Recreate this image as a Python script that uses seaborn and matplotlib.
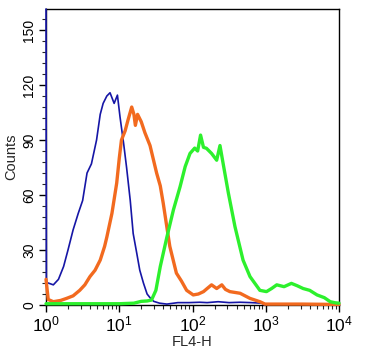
import numpy as np
import pandas as pd
import matplotlib
matplotlib.use("Agg")
import matplotlib.pyplot as plt
from matplotlib.ticker import LogLocator, MultipleLocator, NullFormatter
import seaborn as sns

# channel positions are given in decades (log10 of FL4-H)
blue_dec = [0, 0.005, 0.03, 0.1, 0.17, 0.24, 0.3, 0.37, 0.44, 0.5, 0.56, 0.62, 0.69,
            0.74, 0.78, 0.83, 0.874, 0.93, 0.975, 1.01, 1.06, 1.1, 1.15, 1.19, 1.24,
            1.28, 1.33, 1.38, 1.42, 1.47, 1.55, 1.65, 1.8, 1.95, 2.1, 2.2, 2.35,
            2.5, 2.65, 2.8, 2.95, 2.98]
# first channel is off scale (piled up at the top of the plot)
blue_cnt = [161.5, 12, 12, 11, 14, 21, 30, 41, 50, 57, 72, 77, 90,
            104, 110, 114, 115.8, 110, 114.5, 102.7, 88, 75, 57, 39, 28,
            19, 12, 6, 4, 2, 1, 0.5, 1.3, 1.3, 1.5, 1.3, 1.8, 1.3, 1.5, 1.3, 1, 0]

orange_dec = [0, 0.03, 0.1, 0.2, 0.28, 0.37, 0.46, 0.53, 0.6, 0.67, 0.74, 0.8, 0.83,
              0.9, 0.965, 1.0, 1.03, 1.08, 1.12, 1.17, 1.2, 1.22, 1.25, 1.3, 1.35,
              1.42, 1.51, 1.56, 1.6, 1.69, 1.78, 1.85, 1.92, 2.01, 2.08, 2.15, 2.2,
              2.26, 2.33, 2.4, 2.45, 2.51, 2.65, 2.785, 2.92, 2.99, 3.5, 4.0]
orange_cnt = [14, 3, 1.8, 2.5, 3.6, 5, 8, 11, 15.5, 19, 24.5, 32, 37,
              50, 66.5, 80, 90, 95, 101, 108, 104, 98, 104, 100, 94,
              87, 72, 65, 55.6, 32, 17.4, 13, 8, 5.5, 6, 7.3, 9,
              11, 9, 11, 8.5, 7.3, 6.4, 3.6, 1.8, 0.5, 0.5, 0.3]

green_dec = [0, 0.5, 1.0, 1.2, 1.3, 1.38, 1.44, 1.5, 1.56, 1.65, 1.74, 1.83, 1.9,
             1.966, 2.03, 2.07, 2.11, 2.15, 2.19, 2.26, 2.33, 2.375, 2.41, 2.49,
             2.58, 2.69, 2.785, 2.92, 3.01, 3.08, 3.15, 3.25, 3.35, 3.43, 3.51,
             3.6, 3.7, 3.8, 3.88, 3.95, 4.0]
green_cnt = [0.7, 0.7, 0.7, 1, 2, 2.2, 2.7, 8, 21, 37, 52, 64.5, 75.5,
             82.7, 85.6, 84, 92.7, 86, 85.5, 82.7, 79, 87, 79, 61,
             42.7, 24.5, 15.5, 8, 7.3, 9, 11, 10, 11.8, 10.5, 9,
             8, 5.5, 4, 1.8, 1.2, 1]

series = [
    (blue_dec, blue_cnt, "#1616a6", 1.2),
    (orange_dec, orange_cnt, "#f26a1f", 2.4),
    (green_dec, green_cnt, "#2df02d", 2.4),
]

sns.set_style("ticks")
plt.rcParams["font.family"] = ["Liberation Sans", "DejaVu Sans"]
plt.rcParams["mathtext.fontset"] = "custom"
plt.rcParams["mathtext.rm"] = "Liberation Sans"
plt.rcParams["mathtext.default"] = "regular"

fig = plt.figure(figsize=(3.69, 3.59), dpi=100)
ax = fig.add_axes([0.1247, 0.1504, 0.794, 0.8246])

for dec, cnt, col, lw in series:
    df = pd.DataFrame({"FL4-H": 10 ** np.array(dec), "Counts": cnt})
    sns.lineplot(data=df, x="FL4-H", y="Counts", color=col, linewidth=lw,
                 sort=False, ax=ax, zorder=3, clip_on=False)

ax.set_xscale("log")
ax.set_xlim(1, 1e4)
ax.set_ylim(0, 161.5)
ax.set_yticks([0, 30, 60, 90, 120, 150])
ax.yaxis.set_minor_locator(MultipleLocator(6))
ax.xaxis.set_major_locator(LogLocator(base=10, numticks=10))
ax.xaxis.set_minor_locator(LogLocator(base=10, subs=np.arange(2, 10), numticks=20))
ax.xaxis.set_minor_formatter(NullFormatter())

ax.tick_params(axis="both", which="major", direction="out", length=5, width=1,
               colors="black")
ax.tick_params(axis="both", which="minor", direction="out", length=3, width=0.8)
ax.tick_params(axis="x", labelsize=12.5, pad=2)
ax.tick_params(axis="y", labelsize=10, pad=2)
for lab in ax.get_yticklabels():
    lab.set_rotation(90)
    lab.set_va("center")

ax.set_xlabel("FL4-H", fontsize=10.5, labelpad=0)
ax.set_ylabel("Counts", fontsize=10.5, labelpad=3)
for sp in ax.spines.values():
    sp.set_visible(True)
    sp.set_linewidth(1)
    sp.set_color("black")

fig.savefig("out.png", dpi=100)
